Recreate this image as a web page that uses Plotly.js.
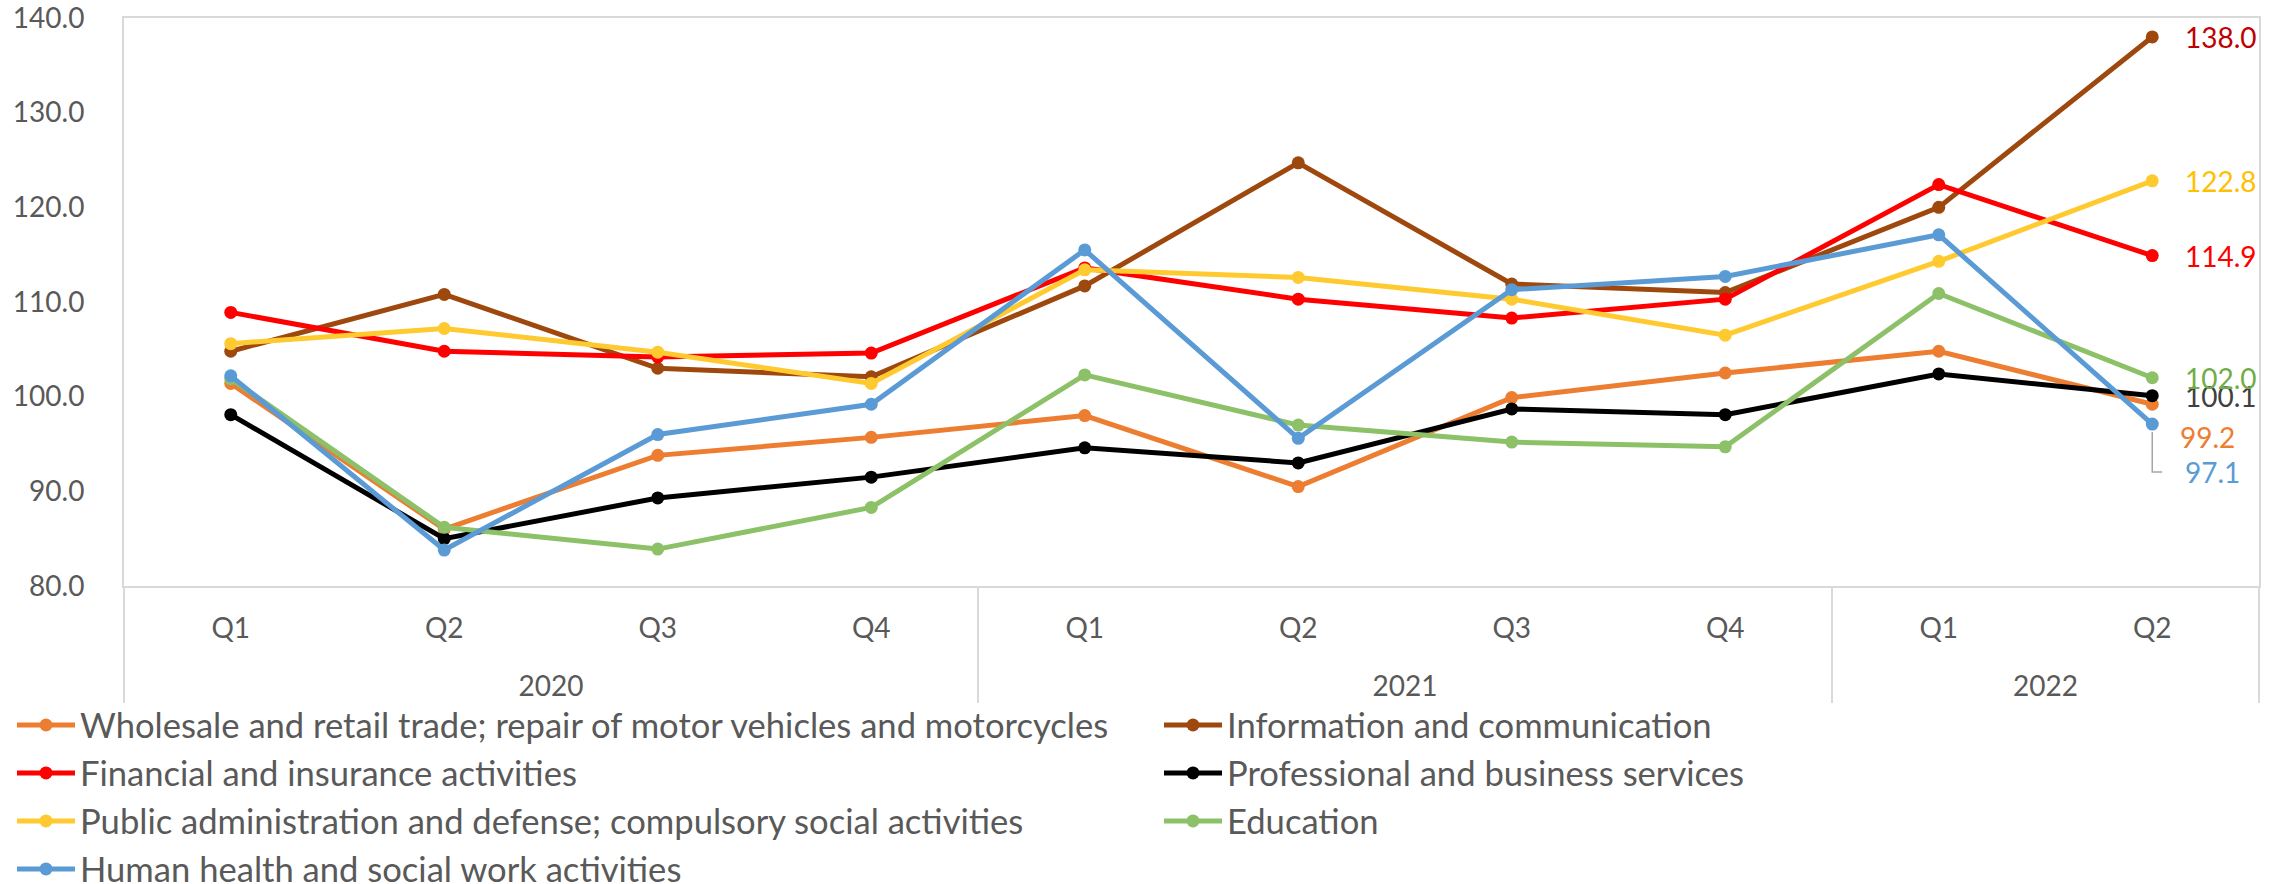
<!DOCTYPE html>
<html>
<head>
<meta charset="utf-8">
<script src="https://cdn.plot.ly/plotly-3.0.1.min.js"></script>
<style>html,body{margin:0;padding:0;background:#fff;}#chart{width:2278px;height:884px;}</style>
</head>
<body>
<div id="chart"></div>
<script>
const years = ['2020','2020','2020','2020','2021','2021','2021','2021','2022','2022'];
const quarters = ['Q1','Q2','Q3','Q4','Q1','Q2','Q3','Q4','Q1','Q2'];

const seriesNames = [
  'Wholesale and retail trade; repair of motor vehicles and motorcycles',
  'Information and communication',
  'Financial and insurance activities',
  'Professional and business services',
  'Public administration and defense; compulsory social activities',
  'Education',
  'Human health and social work activities'
];
const wholesale    = [101.4, 86.0, 93.8, 95.7, 98.0, 90.5, 99.9, 102.5, 104.8, 99.2];
const information  = [104.8, 110.8, 103.0, 102.1, 111.7, 124.7, 111.9, 111.0, 120.0, 138.0];
const financial    = [108.9, 104.8, 104.2, 104.6, 113.6, 110.3, 108.3, 110.3, 122.4, 114.9];
const professional = [98.1, 85.0, 89.3, 91.5, 94.6, 93.0, 98.7, 98.1, 102.4, 100.1];
const publicAdmin  = [105.6, 107.2, 104.7, 101.4, 113.4, 112.6, 110.3, 106.5, 114.3, 122.8];
const education    = [101.9, 86.2, 83.9, 88.3, 102.3, 97.0, 95.2, 94.7, 110.9, 102.0];
const health       = [102.2, 83.8, 96.0, 99.2, 115.5, 95.6, 111.3, 112.7, 117.1, 97.1];

const seriesValues = [wholesale, information, financial, professional, publicAdmin, education, health];
const lineColors  = ['#ED7D31','#9E480E','#FF0000','#000000','#FFCA30','#8CC168','#5B9BD5'];
const labelColors = ['#ED7D31','#C00000','#FF0000','#404040','#FFC000','#70AD47','#5B9BD5'];
// legend column for each series (two-column legend as in the original)
const legendColumn = ['legend','legend2','legend','legend2','legend','legend2','legend'];
// pixel offsets for end labels (x shift, y shift)
const labelShift = [[26,-33],[31,0],[31,0],[31,0],[31,0],[31,0],[31,-48]];

const FONT = 'Lato, "Open Sans", sans-serif';

// pad first-level labels vertically so the year level sits lower (invisible spacer)
const spacer = '<span style="font-size:60px">\u00a0</span>';
const quarterLabels = quarters.map(q => spacer + q + spacer);

const traces = seriesNames.map((name, i) => ({
  type: 'scatter',
  mode: 'lines+markers',
  name: name,
  legend: legendColumn[i],
  x: [years, quarterLabels],
  y: seriesValues[i],
  line: {color: lineColors[i], width: 5},
  marker: {color: lineColors[i], size: 13, symbol: 'circle'},
  cliponaxis: false
}));

const lastIdx = years.length - 1;
const annotations = seriesValues.map((vals, i) => ({
  xref: 'x', yref: 'y',
  x: lastIdx, y: vals[lastIdx],
  text: vals[lastIdx].toFixed(1),
  showarrow: false,
  xanchor: 'left', yanchor: 'middle',
  xshift: labelShift[i][0], yshift: labelShift[i][1],
  font: {family: FONT, size: 28, color: labelColors[i]}
}));

const shapes = [{
  type: 'path',
  xref: 'x', yref: 'y',
  xsizemode: 'pixel', ysizemode: 'pixel',
  xanchor: lastIdx, yanchor: health[lastIdx],
  path: 'M0,-8 L0,-48 L10,-48',
  line: {color: '#A6A6A6', width: 1.5}
}];

const legendCommon = {
  orientation: 'h',
  xref: 'container', yref: 'container',
  yanchor: 'top', xanchor: 'left',
  y: (884 - 696) / 884,
  itemwidth: 58,
  entrywidthmode: 'pixels',
  font: {family: FONT, size: 34.6, color: '#595959'},
  bgcolor: 'rgba(0,0,0,0)',
  traceorder: 'normal'
};

const layout = {
  width: 2278, height: 884,
  margin: {l: 124, r: 19, t: 18, b: 298},
  paper_bgcolor: '#ffffff', plot_bgcolor: '#ffffff',
  font: {family: FONT, color: '#595959', size: 28},
  showlegend: true,
  xaxis: {
    type: 'multicategory',
    range: [-0.5, 9.5], autorange: false,
    showline: true, linecolor: '#D9D9D9', linewidth: 2, mirror: true,
    showgrid: false, zeroline: false,
    showdividers: true, dividercolor: '#D9D9D9', dividerwidth: 1.5,
    tickfont: {family: FONT, size: 28, color: '#595959'},
    ticks: '', ticklabelstandoff: 16, tickangle: 0
  },
  yaxis: {
    range: [80, 140], tick0: 80, dtick: 10, tickformat: '.1f',
    showline: true, linecolor: '#D9D9D9', linewidth: 2, mirror: true,
    showgrid: false, zeroline: false,
    ticks: '', ticklabelstandoff: 32, ticklabeloverflow: 'allow',
    tickfont: {family: FONT, size: 28, color: '#595959'}
  },
  legend: Object.assign({}, legendCommon, {x: 12 / 2278, entrywidth: 1145}),
  legend2: Object.assign({}, legendCommon, {x: (6 + 1153) / 2278, entrywidth: 1145}),
  annotations: annotations,
  shapes: shapes
};

Plotly.newPlot('chart', traces, layout, {displayModeBar: false, staticPlot: true});
</script>
</body>
</html>
